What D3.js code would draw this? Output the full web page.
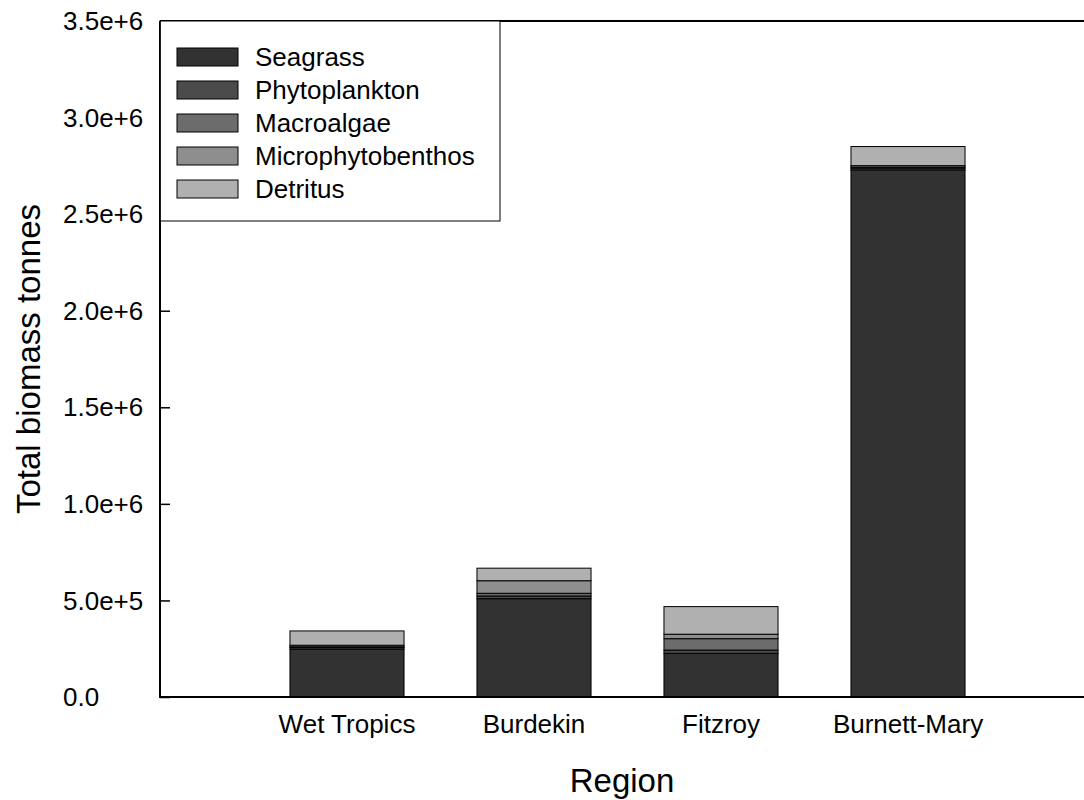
<!DOCTYPE html>
<html>
<head>
<meta charset="utf-8">
<script src="https://cdn.jsdelivr.net/npm/d3@7"></script>
<style>
  html, body { margin: 0; padding: 0; background: #fff; }
  svg { display: block; font-family: "Liberation Sans", Arial, sans-serif; }
</style>
</head>
<body>
<svg id="chart" width="1084" height="800"></svg>
<script>
// Regions along the coast and the biomass (tonnes) of each primary producer group
const regions = ["Wet Tropics", "Burdekin", "Fitzroy", "Burnett-Mary"];
const groups = ["Seagrass", "Phytoplankton", "Macroalgae", "Microphytobenthos", "Detritus"];
const seagrass          = [248000,  509000, 226000, 2729000];
const phytoplankton     = [  8000,   14000,  17000,    9000];
const macroalgae        = [  4000,   14000,  59000,    5000];
const microphytobenthos = [  8000,   65000,  23000,    8000];
const detritus          = [ 74000,   65000, 143000,   99000];
const yTicks = [0, 500000, 1000000, 1500000, 2000000, 2500000, 3000000, 3500000];
const yTickLabels = ["0.0", "5.0e+5", "1.0e+6", "1.5e+6", "2.0e+6", "2.5e+6", "3.0e+6", "3.5e+6"];

const fills = ["#323232", "#4b4b4b", "#6c6c6c", "#8e8e8e", "#b0b0b0"];

const rows = regions.map((r, i) => ({
  region: r,
  Seagrass: seagrass[i],
  Phytoplankton: phytoplankton[i],
  Macroalgae: macroalgae[i],
  Microphytobenthos: microphytobenthos[i],
  Detritus: detritus[i]
}));

const svg = d3.select("#chart");
const plotL = 160, plotR = 1084, plotT = 21, plotB = 697;

const y = d3.scaleLinear().domain([0, 3500000]).range([plotB, plotT]);
const x = d3.scaleBand().domain(regions).range([253.5, 1001.5]).padding(0);
const barW = x.step() * 0.61;

const stacked = d3.stack().keys(groups)(rows);
const color = d3.scaleOrdinal().domain(groups).range(fills);

// stacked bars
svg.append("g").selectAll("g")
  .data(stacked)
  .join("g")
  .attr("fill", d => color(d.key))
  .selectAll("rect")
  .data(d => d)
  .join("rect")
  .attr("x", d => x(d.data.region) + (x.bandwidth() - barW) / 2)
  .attr("y", d => y(d[1]))
  .attr("width", barW)
  .attr("height", d => y(d[0]) - y(d[1]))
  .attr("stroke", "#000")
  .attr("stroke-width", 1);

// y axis: ticks point into the plot, labels left-aligned
const yAxis = svg.append("g").attr("transform", `translate(${plotL},0)`)
  .call(d3.axisRight(y).tickValues(yTicks).tickSize(10).tickFormat(""));
yAxis.select(".domain").remove();
yAxis.selectAll(".tick line").attr("stroke", "#000").attr("stroke-width", 1.5);

svg.append("g").selectAll("text")
  .data(yTicks)
  .join("text")
  .attr("x", 63)
  .attr("y", d => y(d))
  .attr("dy", "0.35em")
  .attr("font-size", 26)
  .attr("fill", "#000")
  .text((d, i) => yTickLabels[i]);

// frame lines
svg.append("line").attr("x1", plotL).attr("x2", plotL).attr("y1", plotT).attr("y2", plotB + 1)
  .attr("stroke", "#000").attr("stroke-width", 2);
svg.append("line").attr("x1", plotL - 1).attr("x2", plotR).attr("y1", plotB).attr("y2", plotB)
  .attr("stroke", "#000").attr("stroke-width", 2);
svg.append("line").attr("x1", plotL).attr("x2", plotR).attr("y1", plotT).attr("y2", plotT)
  .attr("stroke", "#000").attr("stroke-width", 2);

// x axis labels
const xAxis = svg.append("g").attr("transform", `translate(0,${plotB})`)
  .call(d3.axisBottom(x).tickSize(0).tickPadding(18));
xAxis.select(".domain").remove();
xAxis.selectAll("text").attr("font-size", 26).attr("fill", "#000")
  .attr("font-family", "Liberation Sans, Arial, sans-serif");

// axis titles
svg.append("text")
  .attr("x", (plotL + plotR) / 2).attr("y", 792)
  .attr("text-anchor", "middle").attr("font-size", 33).text("Region");
svg.append("text")
  .attr("transform", `translate(40,${(plotT + plotB) / 2}) rotate(-90)`)
  .attr("text-anchor", "middle").attr("font-size", 33).text("Total biomass tonnes");

// legend box
const lg = svg.append("g");
lg.append("rect").attr("x", plotL).attr("y", plotT).attr("width", 340).attr("height", 200)
  .attr("fill", "#fff").attr("stroke", "#000").attr("stroke-width", 1);
const items = lg.selectAll("g.item").data(groups).join("g")
  .attr("class", "item")
  .attr("transform", (d, i) => `translate(0,${57 + i * 33})`);
items.append("rect")
  .attr("x", 177).attr("y", -9).attr("width", 61).attr("height", 18)
  .attr("fill", d => color(d)).attr("stroke", "#000").attr("stroke-width", 1);
items.append("text")
  .attr("x", 255).attr("dy", "0.35em").attr("font-size", 26).text(d => d);

// left edge of the legend sits on the axis
svg.append("line").attr("x1", plotL).attr("x2", plotL).attr("y1", plotT).attr("y2", plotT + 200)
  .attr("stroke", "#000").attr("stroke-width", 1.5);
</script>
</body>
</html>
